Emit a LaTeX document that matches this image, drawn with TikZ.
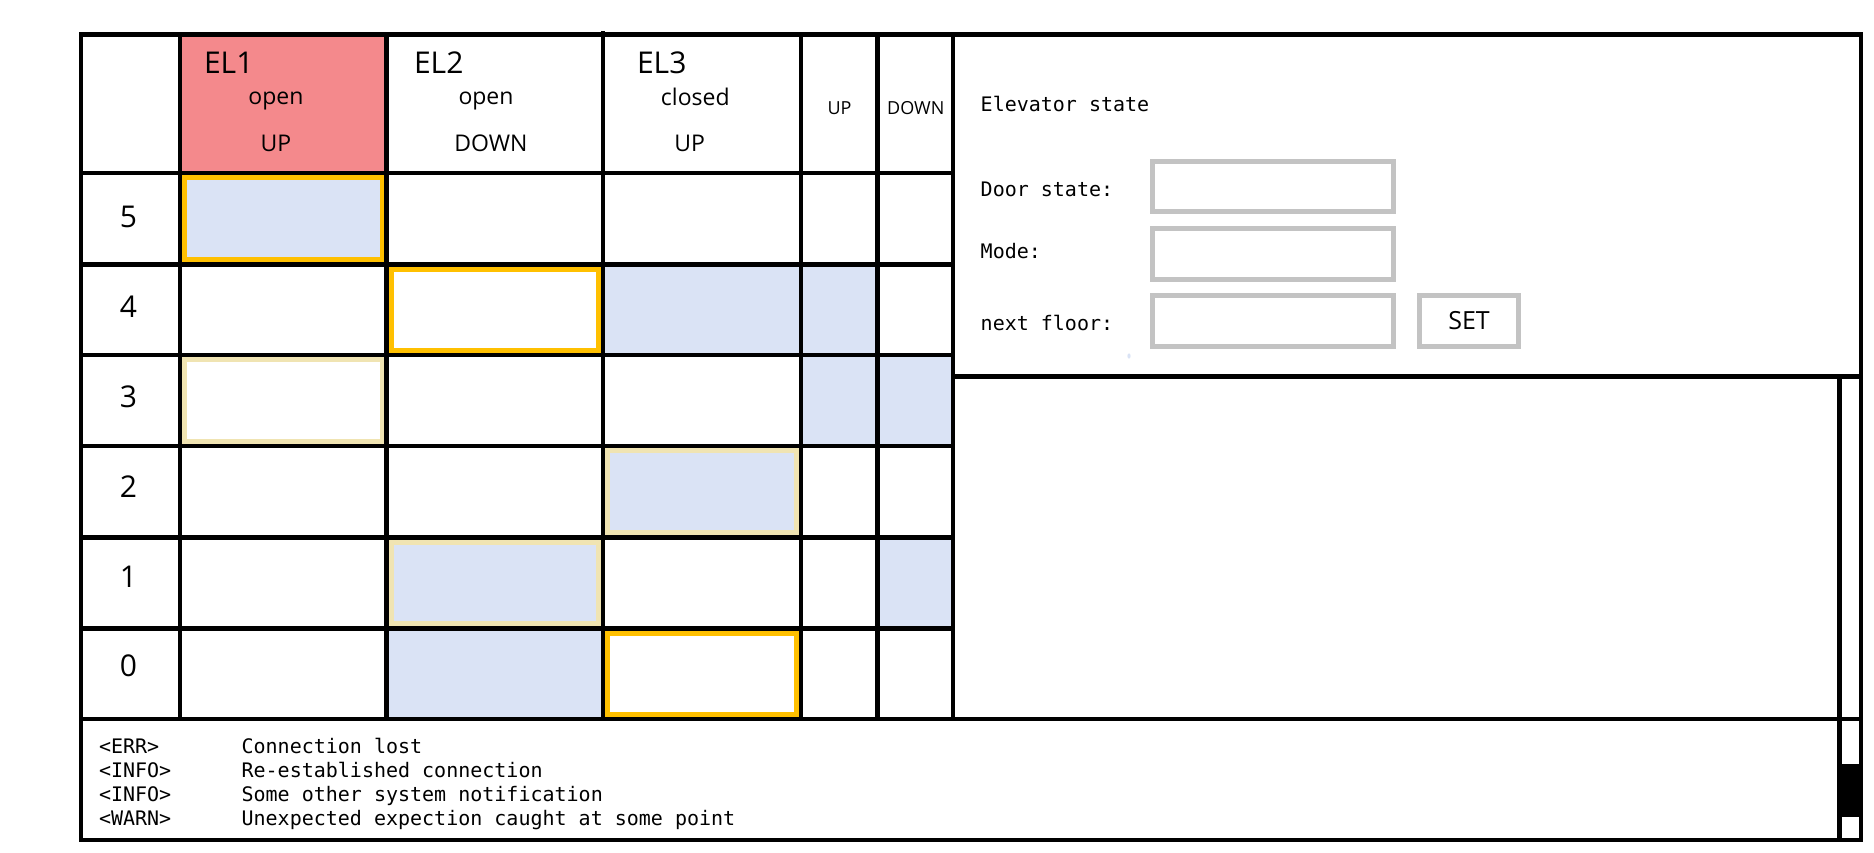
\documentclass[tikz,border=0pt]{standalone}
\usepackage{fontspec}
\setmainfont{Open Sans}
\newfontfamily\monof{DejaVu Sans Mono}
\newcommand\myfs[1]{\fontsize{#1}{#1}\selectfont}
\definecolor{pinkhead}{RGB}{244,137,140}
\definecolor{lblue}{RGB}{218,227,245}
\definecolor{goldb}{RGB}{255,192,0}
\definecolor{beigeb}{RGB}{240,228,178}
\definecolor{grayb}{RGB}{195,195,195}
\begin{document}
\begin{tikzpicture}[x=1pt,y=-1pt,
  gridline/.style={line width=4.8pt,black},
  hilite/.style={line width=5pt},
  inbox/.style={draw=grayb,line width=4.7pt},
  txt/.style={inner sep=0pt,outer sep=0pt,anchor=base},
  elname/.style={txt,anchor=base west,font=\myfs{30}},
  hdmid/.style={txt,font=\myfs{23}},
  hdsmall/.style={txt,font=\myfs{18}},
  floornum/.style={txt,font=\myfs{30}},
  mono/.style={txt,anchor=base west,font=\monof\myfs{20}}]
\useasboundingbox (0,0) rectangle (1874,852);
\fill[white] (0,0) rectangle (1874,852);

% ---- cell fills
\fill[pinkhead] (180,34.7) rectangle (386.7,173);
\fill[lblue] (180,173) rectangle (386.7,264.3);
\fill[lblue] (603,264.3) rectangle (877.7,355);
\fill[lblue] (801,355) rectangle (953,446);
\fill[lblue] (603,446) rectangle (801,537.3);
\fill[lblue] (386.7,537.3) rectangle (603,628.3);
\fill[lblue] (877.7,537.3) rectangle (953,628.3);
\fill[lblue] (386.7,628.3) rectangle (603,719);

% ---- highlighted cells (inset borders)
\draw[hilite,draw=goldb]  (184.9,177.7) rectangle (382.0,259.6);
\draw[hilite,draw=goldb]  (391.4,269.0) rectangle (598.3,350.3);
\draw[hilite,draw=goldb]  (607.7,633.0) rectangle (796.3,714.3);
\draw[hilite,draw=beigeb] (184.9,359.7) rectangle (382.0,441.3);
\draw[hilite,draw=beigeb] (607.7,450.7) rectangle (796.3,532.6);
\draw[hilite,draw=beigeb] (391.4,542.0) rectangle (598.3,623.6);

% ---- grid
\draw[gridline] (81,34.7) rectangle (1861,840);
\draw[gridline] (81,173) -- (953,173);
\foreach \yy in {264.3,355,446,537.3,628.3}
  \draw[gridline] (81,\yy) -- (953,\yy);
\draw[gridline] (81,719) -- (1861,719);
\foreach \xx in {180,386.7,801,877.7,953}
  \draw[gridline] (\xx,34.7) -- (\xx,719);
\draw[gridline] (603,31) -- (603,719);
\draw[gridline] (953,376.5) -- (1861,376.5);
\draw[gridline] (1839.5,376.5) -- (1839.5,840);
\fill[black] (1837.1,764) rectangle (1863.4,817);

% ---- header texts
\node[elname] (el1) at (204,73) {EL1};
\node[hdmid] (el1door) at (276,104) {open};
\node[hdmid] (el1dir) at (276,151) {UP};
\node[elname] (el2) at (414,73) {EL2};
\node[hdmid] (el2door) at (486,104) {open};
\node[hdmid] (el2dir) at (491,151) {DOWN};
\node[elname] (el3) at (637,73) {EL3};
\node[hdmid] (el3door) at (695.3,105) {closed};
\node[hdmid] (el3dir) at (689.7,151) {UP};
\node[hdsmall] (callup) at (839.5,114.3) {UP};
\node[hdsmall] (calldown) at (915.8,114.3) {DOWN};

% ---- floor numbers
\node[floornum] (f5) at (128.5,227.7) {5};
\node[floornum] (f4) at (128.5,317.7) {4};
\node[floornum] (f3) at (128.5,407.3) {3};
\node[floornum] (f2) at (128.5,497.3) {2};
\node[floornum] (f1) at (128.5,587.7) {1};
\node[floornum] (f0) at (128.5,676.7) {0};

% ---- state panel
\node[mono] (estate) at (980.7,111.7) {Elevator state};
\node[mono] (ldoor) at (980.7,196) {Door state:};
\node[mono] (lmode) at (980.7,258.3) {Mode:};
\node[mono] (lnext) at (980.7,330) {next floor:};
\draw[inbox] (1152.3,161.3) rectangle (1393.4,211.7);
\draw[inbox] (1152.3,228.3) rectangle (1393.4,279.3);
\draw[inbox] (1152.3,295.3) rectangle (1393.4,346.3);
\draw[inbox] (1419.3,295.3) rectangle (1518.4,346.3);
\node[txt,font=\myfs{25}] (setbtn) at (1469,329) {SET};
\fill[lblue] (1129,356) ellipse (1.6 and 2.6);

% ---- log
\node[mono] (t1) at (99,753) {<ERR>};
\node[mono] (m1) at (241.6,753) {Connection lost};
\node[mono] (t2) at (99,777.3) {<INFO>};
\node[mono] (m2) at (241.6,777.3) {Re-established connection};
\node[mono] (t3) at (99,801.7) {<INFO>};
\node[mono] (m3) at (241.6,801.7) {Some other system notification};
\node[mono] (t4) at (99,825.7) {<WARN>};
\node[mono] (m4) at (241.6,825.7) {Unexpected expection caught at some point};
\end{tikzpicture}
\end{document}
